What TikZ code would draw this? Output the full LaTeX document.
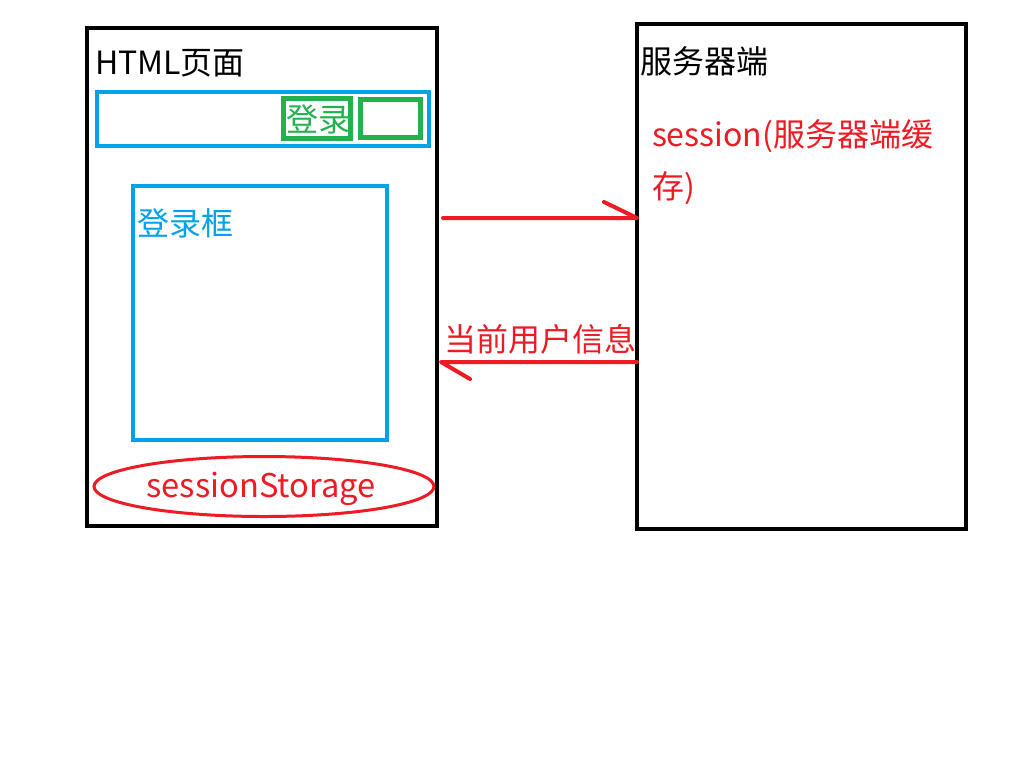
\documentclass[tikz,border=0pt]{standalone}
\usepackage{fontspec}
\setmainfont{Noto Sans CJK SC}
\usetikzlibrary{calc}
\newlength\pxu
\setlength\pxu{0.75pt}
\definecolor{pred}{HTML}{ED1C24}
\definecolor{pblue}{HTML}{00A2E8}
\definecolor{pgreen}{HTML}{22B14C}
\begin{document}
\begin{tikzpicture}[x=0.75pt,y=-0.75pt,
  box/.style={draw, line width=4\pxu, inner sep=0pt, outer sep=0pt},
  txt/.style={font=\fontsize{24}{39}\selectfont, inner sep=0pt, outer sep=0pt},
  harrow/.style={draw=pred, line width=4\pxu, line cap=round, line join=round}]
\useasboundingbox (0,0) rectangle (1024,768);
\fill[white] (0,0) rectangle (1024,768);

% HTML page
\node[box, minimum width=350\pxu, minimum height=498\pxu] (html) at (262,276.5) {};
\node[txt, anchor=west] (htmltitle) at (95,63) {HTML页面};
\node[box, draw=pblue, minimum width=332\pxu, minimum height=54\pxu] (bar) at (263,119) {};
\node[box, draw=pgreen, line width=5\pxu, minimum width=67\pxu, minimum height=40\pxu] (loginbtn) at (317,118.5) {};
\node[txt, text=pgreen] (logintxt) at (318,119) {登录};
\node[box, draw=pgreen, line width=5\pxu, minimum width=60\pxu, minimum height=38\pxu] (btn2) at (390.5,118) {};
\node[box, draw=pblue, minimum width=254.5\pxu, minimum height=254.5\pxu] (loginbox) at (260,313) {};
\node[txt, anchor=west, text=pblue] (loginboxtxt) at (137,223) {登录框};
\draw[pred, line width=3\pxu] (264,486.5) ellipse [x radius=170, y radius=30];
\node[txt, text=pred, font=\fontsize{24.5}{39}\selectfont] (storage) at (261,489) {sessionStorage};

% Server
\node[box, minimum width=329\pxu, minimum height=505\pxu] (server) at (801.5,276.5) {};
\node[txt, anchor=west] (servertitle) at (640,61) {服务器端};
\node[txt, anchor=west, text=pred, align=left] (session) at (652,162) {session(服务器端缓\\存)};

% connectors
\coordinate (t1) at ($(html.east |- 0,218)+(6,0)$);
\coordinate (t2) at (server.west |- 0,218);
\draw[harrow] (t1) -- (t2) -- ++(-33,-16);
\coordinate (b1) at (server.west |- 0,362);
\coordinate (b2) at ($(html.east |- 0,362)+(4,0)$);
\draw[harrow] (b1) -- (b2) -- ++(29,17);
\node[txt, anchor=west, text=pred] (info) at (444,339) {当前用户信息};
\end{tikzpicture}
\end{document}
